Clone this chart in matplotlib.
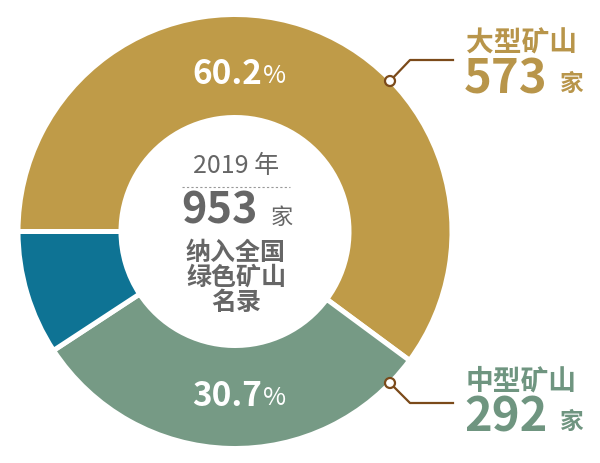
import matplotlib.pyplot as plt
from matplotlib.patches import Circle

plt.rcParams['font.family'] = ['Noto Sans CJK SC', 'DejaVu Sans']

# data
labels = ['大型矿山', '中型矿山', '小型矿山']
counts = [573, 292, 88]
pct_text = ['60.2', '30.7']
colors = ['#BF9B48', '#769A85', '#0E7394']
total = 953
year = '2019'

W, H = 600, 463
fig = plt.figure(figsize=(6, 4.63), dpi=100)
ax = fig.add_axes([0, 0, 1, 1])


def py(y):
    # pixel row -> data y
    return H - y


cx, cy, R = 235, py(231.5), 217
ax.pie(counts, colors=colors, startangle=180, counterclock=False,
       center=(cx, cy), radius=R,
       wedgeprops=dict(width=103, edgecolor='white', linewidth=3.6))
ax.set_xlim(0, W)
ax.set_ylim(0, H)
ax.set_aspect('equal')
ax.axis('off')

# percentage labels on the ring
for txt, yy in zip(pct_text, [75, 397]):
    ax.text(262, py(yy), txt, color='white', fontsize=24, fontweight='bold',
            ha='right', va='center')
    ax.text(263, py(yy + 1), '%', color='white', fontsize=18,
            ha='left', va='center')

# centre text
grey = '#666666'
ax.text(236, py(166), year + ' 年', color=grey, fontsize=18, fontweight='medium',
        ha='center', va='center')
ax.plot([182, 290], [py(187), py(187)], color='#999999', lw=0.8, ls=(0, (2, 2)))
ax.text(219, py(211), str(total), color=grey, fontsize=31, fontweight='bold',
        ha='center', va='center')
ax.text(282, py(217), '家', color=grey, fontsize=16, ha='center', va='center')
for s, yy in zip(['纳入全国', '绿色矿山', '名录'], [253, 278, 303]):
    ax.text(236, py(yy), s, color=grey, fontsize=18, fontweight='bold',
            ha='center', va='center')

# leader lines and side labels
line_c = '#7B4A1A'
text_c = ['#B8954A', '#6F9580']
for i, (p0, p1, ty, ny) in enumerate([((390, 81), (410, 60), 44, 79),
                                      ((390, 383), (410, 403), 381, 417)]):
    ax.plot([p0[0], p1[0], 453], [py(p0[1]), py(p1[1]), py(p1[1])],
            color=line_c, lw=1.6, zorder=3)
    ax.add_patch(Circle((p0[0], py(p0[1])), 5, facecolor='white',
                        edgecolor=line_c, lw=1.6, zorder=4))
    ax.text(466, py(ty), labels[i], color=text_c[i], fontsize=20,
            fontweight='bold', ha='left', va='center')
    ax.text(464, py(ny), str(counts[i]), color=text_c[i], fontsize=34,
            fontweight='bold', ha='left', va='center')
    ax.text(572, py(ny + 5), '家', color=text_c[i], fontsize=17,
            fontweight='bold', ha='center', va='center')

fig.savefig('out.png', dpi=100)
